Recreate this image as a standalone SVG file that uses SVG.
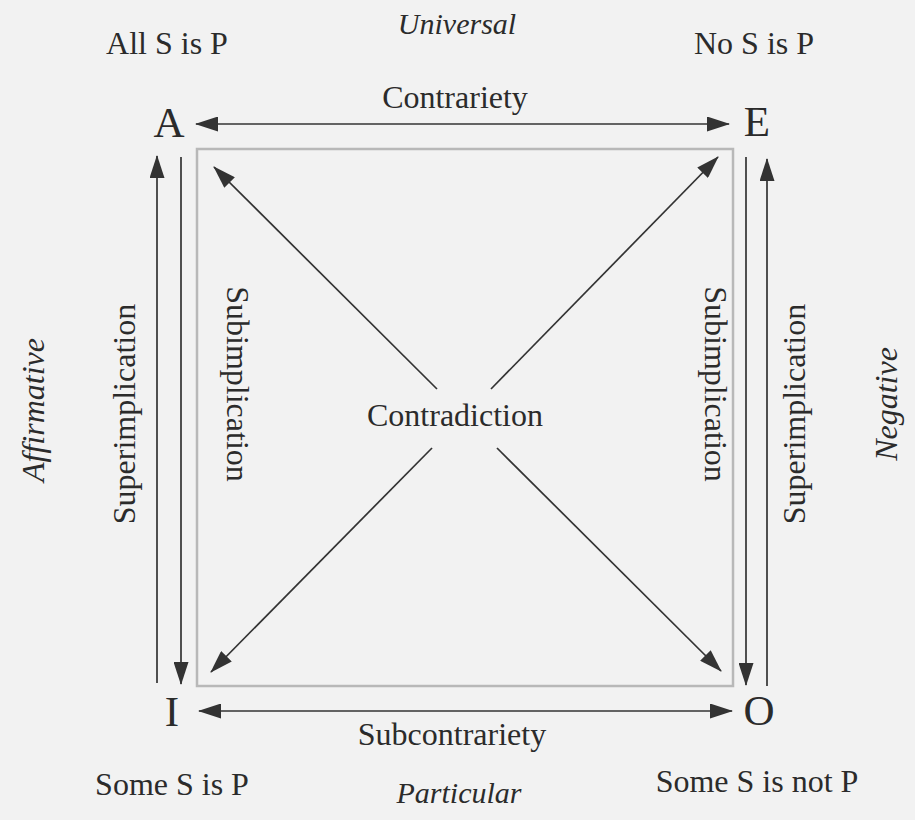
<svg xmlns="http://www.w3.org/2000/svg" width="915" height="820" viewBox="0 0 915 820">
<style>
.t{font-family:"Liberation Serif","DejaVu Serif",serif;fill:#2b2b2b;font-size:32px}
.it{font-style:italic;font-size:30px}
.side{font-size:32px}
.big{font-size:43px}
.mid{text-anchor:middle}
.ln{stroke:#333333;stroke-width:1.7;fill:none}
</style>
<defs>
<marker id="ah" viewBox="0 0 23 15" refX="22" refY="7.5" markerWidth="23" markerHeight="15" markerUnits="userSpaceOnUse" orient="auto-start-reverse">
<path d="M0,0 L23,7.5 L0,15 Z" fill="#333333"/>
</marker>
</defs>
<rect width="915" height="820" fill="#f2f2f2"/>
<rect id="square" x="197" y="149" width="536" height="537" fill="none" stroke="#b8b8b8" stroke-width="2.5"/>
<g id="connectors">
<line class="ln" x1="196" y1="124" x2="729" y2="124" marker-start="url(#ah)" marker-end="url(#ah)"/>
<line class="ln" x1="199" y1="711" x2="732" y2="711" marker-start="url(#ah)" marker-end="url(#ah)"/>
<line class="ln" x1="157" y1="683" x2="157" y2="156" marker-end="url(#ah)"/>
<line class="ln" x1="181" y1="157" x2="181" y2="684" marker-end="url(#ah)"/>
<line class="ln" x1="746" y1="157" x2="746" y2="685" marker-end="url(#ah)"/>
<line class="ln" x1="767" y1="686" x2="767" y2="159" marker-end="url(#ah)"/>
<line class="ln" x1="437" y1="389" x2="214" y2="167" marker-end="url(#ah)"/>
<line class="ln" x1="491" y1="389" x2="718" y2="157" marker-end="url(#ah)"/>
<line class="ln" x1="432" y1="448" x2="211" y2="672" marker-end="url(#ah)"/>
<line class="ln" x1="497" y1="448" x2="721" y2="671" marker-end="url(#ah)"/>
</g>
<g id="nodeA">
<text class="t big mid" x="169" y="137">A</text>
<text class="t mid" x="167" y="54">All S is P</text>
</g>
<g id="nodeE">
<text class="t big mid" x="757" y="136">E</text>
<text class="t mid" x="754" y="54">No S is P</text>
</g>
<g id="nodeI">
<text class="t big mid" x="172" y="726">I</text>
<text class="t mid" x="172" y="795">Some S is P</text>
</g>
<g id="nodeO">
<text class="t big mid" x="759" y="725">O</text>
<text class="t mid" x="757" y="792">Some S is not P</text>
</g>
<g id="labels">
<text class="t it mid" x="457" y="34">Universal</text>
<text class="t it mid" x="459" y="803">Particular</text>
<text class="t it side mid" transform="translate(44,410) rotate(-90)">Affirmative</text>
<text class="t it side mid" transform="translate(897,404) rotate(-90)">Negative</text>
<text class="t mid" x="455" y="108">Contrariety</text>
<text class="t mid" x="452" y="745">Subcontrariety</text>
<text class="t mid" x="455" y="426">Contradiction</text>
<text class="t mid" transform="translate(135,414) rotate(-90)">Superimplication</text>
<text class="t mid" transform="translate(227,384) rotate(90)">Subimplication</text>
<text class="t mid" transform="translate(705,384) rotate(90)">Subimplication</text>
<text class="t mid" transform="translate(805,414) rotate(-90)">Superimplication</text>
</g>
</svg>
